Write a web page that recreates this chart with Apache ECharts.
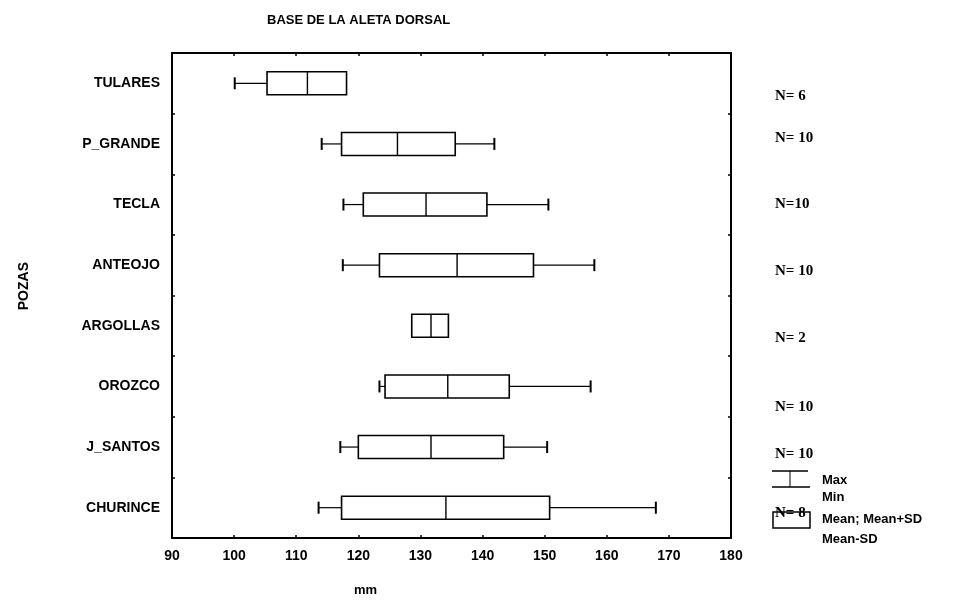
<!DOCTYPE html>
<html>
<head>
<meta charset="utf-8">
<script src="https://cdn.jsdelivr.net/npm/echarts@6/dist/echarts.min.js"></script>
<style>html,body{margin:0;padding:0;background:#fff}#c{width:975px;height:602px}</style>
</head>
<body>
<div id="c"></div>
<script>
var categories = ['TULARES','P_GRANDE','TECLA','ANTEOJO','ARGOLLAS','OROZCO','J_SANTOS','CHURINCE'];
var minVals     = [100.1, 114.1, 117.6, 117.5, 128.6, 123.4, 117.1, 113.6];
var meanMinusSD = [105.3, 117.3, 120.8, 123.4, 128.6, 124.3, 120.0, 117.3];
var means       = [111.8, 126.3, 130.9, 135.9, 131.7, 134.4, 131.7, 134.1];
var meanPlusSD  = [118.1, 135.6, 140.7, 148.2, 134.5, 144.3, 143.4, 150.8];
var maxVals     = [118.1, 141.9, 150.6, 158.0, 134.5, 157.4, 150.4, 167.9];
var nLabels     = ['N= 6','N= 10','N=10','N= 10','N= 2','N= 10','N= 10','N= 8'];
var xTicks      = [90, 180, 10];

// layout only: vertical offsets of the N labels relative to their category
var nOffsets = [13, -6, 0, 6, 12, 21, 7, 5];

var SANS = '"Liberation Sans", Arial, sans-serif';
var SERIF = '"Liberation Serif", "Times New Roman", serif';

var seriesData = categories.map(function (c, i) {
  return [i, minVals[i], meanMinusSD[i], means[i], meanPlusSD[i], maxVals[i]];
});

function renderItem(params, api) {
  var idx = api.value(0);
  var yc = api.coord([api.value(3), idx])[1];
  var xMin = api.coord([api.value(1), idx])[0];
  var xLo = api.coord([api.value(2), idx])[0];
  var xMean = api.coord([api.value(3), idx])[0];
  var xHi = api.coord([api.value(4), idx])[0];
  var xMax = api.coord([api.value(5), idx])[0];
  var boxH = 23, capH = 12;
  var stroke = {stroke: '#000', lineWidth: 1.2, fill: null};
  var children = [];
  if (xLo - xMin > 0.5) {
    children.push({type: 'line', shape: {x1: xMin, y1: yc, x2: xLo, y2: yc}, style: stroke});
    children.push({type: 'line', shape: {x1: xMin, y1: yc - capH / 2, x2: xMin, y2: yc + capH / 2}, style: {stroke: '#000', lineWidth: 2}});
  }
  if (xMax - xHi > 0.5) {
    children.push({type: 'line', shape: {x1: xHi, y1: yc, x2: xMax, y2: yc}, style: stroke});
    children.push({type: 'line', shape: {x1: xMax, y1: yc - capH / 2, x2: xMax, y2: yc + capH / 2}, style: {stroke: '#000', lineWidth: 2}});
  }
  children.push({type: 'rect', shape: {x: xLo, y: yc - boxH / 2, width: xHi - xLo, height: boxH},
    style: {stroke: '#000', lineWidth: 1.6, fill: '#fff'}});
  children.push({type: 'line', shape: {x1: xMean, y1: yc - boxH / 2, x2: xMean, y2: yc + boxH / 2},
    style: {stroke: '#000', lineWidth: 1.4}});
  var cs = params.coordSys;
  children.push({type: 'text', style: {x: cs.x + cs.width + 44, y: yc + nOffsets[idx], text: nLabels[idx],
    fill: '#000', font: 'bold 15px ' + SERIF, textVerticalAlign: 'middle', textAlign: 'left'}});
  return {type: 'group', children: children};
}

var axisFont = {color: '#000', fontWeight: 'bold', fontSize: 14, fontFamily: SANS};

var option = {
  backgroundColor: '#fff',
  animation: false,
  title: {
    text: 'BASE DE LA ALETA DORSAL', left: 262, top: 9,
    textStyle: {color: '#000', fontWeight: 'bold', fontSize: 13, fontFamily: SANS}
  },
  grid: {left: 172, right: 244, top: 53, bottom: 64, show: false},
  xAxis: [{
    type: 'value', min: xTicks[0], max: xTicks[1], interval: xTicks[2], position: 'bottom',
    axisLine: {show: true, lineStyle: {color: '#000', width: 2}},
    axisTick: {show: true, inside: true, length: 3, lineStyle: {color: '#000', width: 1.5}},
    axisLabel: Object.assign({margin: 11}, axisFont),
    splitLine: {show: false}
  }, {
    type: 'value', min: xTicks[0], max: xTicks[1], interval: xTicks[2], position: 'top',
    axisLine: {show: true, lineStyle: {color: '#000', width: 2}},
    axisTick: {show: true, inside: true, length: 3, lineStyle: {color: '#000', width: 1.5}},
    axisLabel: {show: false}, splitLine: {show: false}
  }],
  yAxis: [{
    type: 'category', data: categories, inverse: true, position: 'left',
    axisLine: {show: true, lineStyle: {color: '#000', width: 2}},
    axisTick: {show: true, inside: true, length: 3, lineStyle: {color: '#000', width: 1.5}},
    axisLabel: Object.assign({margin: 12}, axisFont),
    splitLine: {show: false}
  }, {
    type: 'category', data: categories, inverse: true, position: 'right',
    axisLine: {show: true, lineStyle: {color: '#000', width: 2}},
    axisTick: {show: true, inside: true, length: 3, lineStyle: {color: '#000', width: 1.5}},
    axisLabel: {show: false}, splitLine: {show: false}
  }],
  graphic: [
    {type: 'text', left: 17, top: 262, rotation: Math.PI / 2,
      style: {text: 'POZAS', fill: '#000', font: 'bold 14px ' + SANS}},
    {type: 'text', left: 354, top: 584,
      style: {text: 'mm', fill: '#000', font: 'bold 13px ' + SANS}},
    // legend
    {type: 'line', shape: {x1: 772, y1: 471, x2: 808, y2: 471}, style: {stroke: '#000', lineWidth: 1.5}},
    {type: 'line', shape: {x1: 772, y1: 487, x2: 810, y2: 487}, style: {stroke: '#000', lineWidth: 1.5}},
    {type: 'line', shape: {x1: 790, y1: 471, x2: 790, y2: 487}, style: {stroke: '#000', lineWidth: 1}},
    {type: 'rect', shape: {x: 773, y: 512, width: 37, height: 16}, style: {stroke: '#000', lineWidth: 1.5, fill: null}},
    {type: 'text', left: 822, top: 474, style: {text: 'Max', fill: '#000', font: 'bold 13px ' + SANS}},
    {type: 'text', left: 822, top: 491, style: {text: 'Min', fill: '#000', font: 'bold 13px ' + SANS}},
    {type: 'text', left: 822, top: 513, style: {text: 'Mean; Mean+SD', fill: '#000', font: 'bold 13px ' + SANS}},
    {type: 'text', left: 822, top: 533, style: {text: 'Mean-SD', fill: '#000', font: 'bold 13px ' + SANS}}
  ],
  series: [{
    type: 'custom', renderItem: renderItem, data: seriesData, clip: false,
    xAxisIndex: 0, yAxisIndex: 0,
    encode: {x: [1, 2, 3, 4, 5], y: 0}
  }]
};

var chart = echarts.init(document.getElementById('c'), null, {renderer: 'canvas'});
chart.setOption(option);
</script>
</body>
</html>
